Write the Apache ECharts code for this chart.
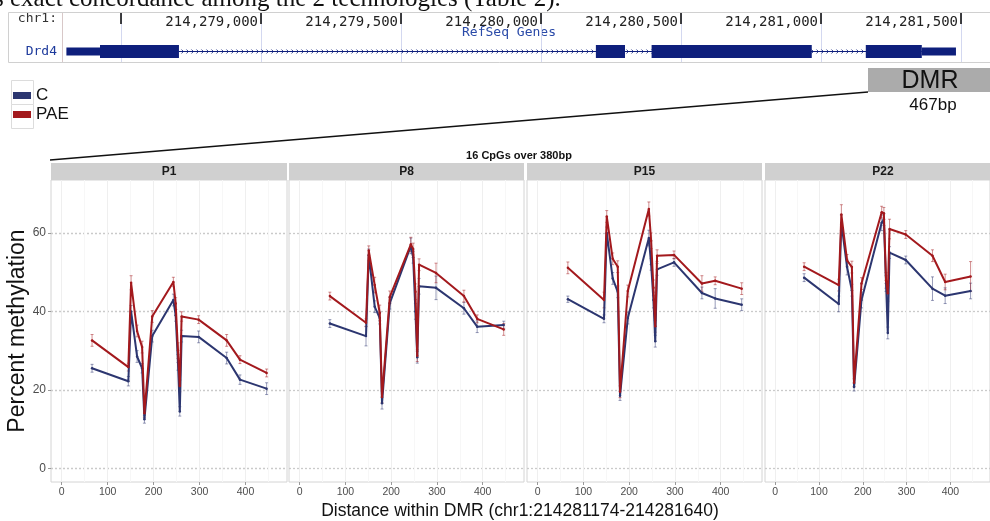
<!DOCTYPE html>
<html><head><meta charset="utf-8">
<script src="https://cdn.jsdelivr.net/npm/echarts@6/dist/echarts.min.js"></script>
<style>html,body{margin:0;padding:0;background:#fff;overflow:hidden}#c{width:990px;height:521px}</style>
</head><body><div id="c"></div>
<script>
// ---------------- data ----------------
const cpgPos = [66, 145, 151, 164, 175, 180, 197, 243, 248, 253, 257, 261, 298, 359, 388, 446];
const panels = ['P1', 'P8', 'P15', 'P22'];
const groups = ['C', 'PAE'];

const C_P1   = [25.5, 22.2, 40.0, 28.5, 25.5, 12.5, 33.7, 42.9, 39.0, 27.0, 14.5, 33.7, 33.5, 28.1, 22.6, 20.3];
const PAE_P1 = [32.6, 25.8, 47.3, 35.0, 30.9, 14.0, 38.7, 47.5, 42.0, 30.0, 21.0, 38.7, 37.9, 32.6, 27.7, 24.3];
const C_P8   = [36.9, 33.7, 54.4, 41.2, 38.3, 16.6, 42.1, 56.7, 53.8, 40.0, 28.3, 46.4, 46.0, 40.8, 36.1, 36.5];
const PAE_P8 = [43.9, 37.1, 55.5, 46.7, 39.6, 18.2, 43.7, 57.1, 55.9, 45.0, 28.7, 51.9, 49.8, 43.9, 38.1, 35.4];
const C_P15  = [43.1, 38.1, 60.0, 48.4, 45.0, 18.5, 38.3, 58.7, 52.0, 42.9, 32.4, 50.7, 52.5, 44.7, 43.3, 41.7];
const PAE_P15= [51.1, 42.9, 64.2, 53.4, 51.4, 19.5, 45.2, 66.1, 58.0, 46.0, 36.2, 54.2, 54.4, 47.1, 47.8, 45.8];
const C_P22  = [48.6, 41.9, 62.6, 51.3, 45.4, 20.7, 42.9, 62.6, 63.4, 47.1, 34.5, 55.0, 53.1, 45.8, 44.0, 45.2];
const PAE_P22= [51.4, 46.7, 64.7, 53.0, 51.3, 21.8, 47.1, 65.3, 65.0, 47.9, 44.6, 61.0, 59.6, 54.2, 47.5, 48.9];

const errC_P1   = [1.0, 1.2, 1.5, 1.5, 1.2, 1.0, 1.5, 1.5, 1.5, 2.0, 1.2, 1.5, 1.5, 1.5, 1.2, 1.5];
const errPAE_P1 = [1.5, 1.0, 1.8, 1.5, 1.5, 1.0, 1.5, 1.2, 1.5, 2.0, 1.5, 1.2, 1.0, 1.5, 1.0, 1.0];
const errC_P8   = [1.0, 2.5, 1.5, 1.5, 1.5, 1.5, 1.5, 2.0, 1.5, 2.0, 1.5, 2.0, 3.0, 1.5, 1.5, 1.0];
const errPAE_P8 = [1.0, 1.0, 1.2, 2.0, 2.0, 1.5, 1.5, 1.8, 1.5, 2.0, 1.5, 1.5, 2.5, 1.5, 1.0, 1.5];
const errC_P15  = [0.8, 1.0, 1.5, 1.5, 1.5, 1.2, 1.5, 2.0, 1.5, 2.0, 1.5, 1.5, 1.0, 1.5, 2.5, 1.5];
const errPAE_P15= [1.5, 2.0, 1.5, 1.5, 1.5, 1.5, 1.5, 1.8, 2.0, 2.0, 1.5, 1.5, 1.0, 2.0, 1.0, 1.5];
const errC_P22  = [1.0, 2.0, 2.0, 2.0, 1.5, 1.0, 2.0, 2.0, 1.5, 2.0, 1.5, 1.5, 1.0, 3.0, 2.0, 2.0];
const errPAE_P22= [1.0, 1.5, 2.5, 1.5, 1.5, 1.0, 1.5, 1.5, 1.5, 2.0, 2.0, 2.5, 1.0, 1.5, 2.0, 3.8];

const xTicks = [0, 100, 200, 300, 400];
const yLabels = [0, 20, 40, 60];

// genome browser track (chr1 coordinates)
const trackTicks = [214278500, 214279000, 214279500, 214280000, 214280500, 214281000, 214281500];
const geneUTR = [[214278305, 214278425], [214281360, 214281482]];
const geneCDS = [[214278425, 214278707], [214280196, 214280300], [214280395, 214280967], [214281160, 214281360]];
const geneIntron = [[214278707, 214281360]];
const geneName = 'Drd4';

const dmrLabel = 'DMR';
const dmrSize = '467bp';
const stripTitle = '16 CpGs over 380bp';
const xTitle = 'Distance within DMR (chr1:214281174-214281640)';
const yTitle = 'Percent methylation';

const values = {C: [C_P1, C_P8, C_P15, C_P22], PAE: [PAE_P1, PAE_P8, PAE_P15, PAE_P22]};
const errors = {C: [errC_P1, errC_P8, errC_P15, errC_P22], PAE: [errPAE_P1, errPAE_P8, errPAE_P15, errPAE_P22]};

// ---------------- styles / layout ----------------
const colors = {C: '#2c3670', PAE: '#a3191d'};
const geneColor = '#0e1f7c';
const SANS = "'Liberation Sans', Arial, sans-serif";
const MONO = "'DejaVu Sans Mono', monospace";
const panelLeft = [51, 289, 527, 765];
const panelWidth = [236, 235, 235, 236];
const panelTop = 180, panelHeight = 302;
const GENE_ROW = 0.21;

const chart = echarts.init(document.getElementById('c'), null, {renderer: 'canvas'});

const grids = [{left: 65, top: 12, width: 924, height: 50, show: false}];
const xAxes = [{
  gridIndex: 0, type: 'value', min: 214278300, max: 214281600, interval: 60, position: 'top',
  axisLine: {show: false, onZero: false},
  axisTick: {show: true, inside: true, length: 12, customValues: trackTicks, lineStyle: {color: '#111', width: 1.6}},
  axisLabel: {show: true, inside: true, customValues: trackTicks, margin: 3, align: 'right', padding: [0, 3, 0, 0],
    fontFamily: MONO, fontSize: 14, color: '#222',
    formatter: v => (v === trackTicks[0] ? '' : Number(v).toLocaleString('en-US'))},
  splitLine: {show: true, lineStyle: {color: '#d3d8f0', width: 1}}
}];
const yAxes = [{gridIndex: 0, type: 'value', min: 0, max: 1, show: false}];
const series = [];

function errItemFactory(color) {
  return function (params, api) {
    const x = api.value(0), v = api.value(1), e = api.value(2);
    const hi = api.coord([x, v + e]), lo = api.coord([x, v - e]);
    const st = {stroke: color, lineWidth: 0.9, opacity: 0.55};
    return {type: 'group', children: [
      {type: 'line', shape: {x1: hi[0], y1: hi[1], x2: lo[0], y2: lo[1]}, style: st},
      {type: 'line', shape: {x1: hi[0] - 1.5, y1: hi[1], x2: hi[0] + 1.5, y2: hi[1]}, style: st},
      {type: 'line', shape: {x1: lo[0] - 1.5, y1: lo[1], x2: lo[0] + 1.5, y2: lo[1]}, style: st}
    ]};
  };
}

panels.forEach((p, i) => {
  grids.push({left: panelLeft[i], top: panelTop, width: panelWidth[i], height: panelHeight, show: true,
    borderColor: '#d4d4d4', borderWidth: 1, backgroundColor: '#fff'});
  xAxes.push({
    gridIndex: i + 1, type: 'value', min: -23.35, max: 490.35, splitNumber: 5,
    axisLine: {show: false, onZero: false},
    axisTick: {show: true, customValues: xTicks, length: 3, lineStyle: {color: '#999'}},
    axisLabel: {show: true, customValues: xTicks, margin: 5, fontSize: 10.5, color: '#4d4d4d', fontFamily: SANS},
    splitLine: {show: true, lineStyle: {color: '#efefef', width: 1}},
    minorTick: {show: false, splitNumber: 2},
    minorSplitLine: {show: true, lineStyle: {color: '#f7f7f7', width: 1}}
  });
  yAxes.push({
    gridIndex: i + 1, type: 'value', min: -3.5, max: 73.5, splitNumber: 4,
    axisLine: {show: false, onZero: false},
    axisTick: {show: i === 0, customValues: yLabels, length: 3, lineStyle: {color: '#999'}},
    axisLabel: {show: i === 0, customValues: yLabels, margin: 5, fontSize: 12, color: '#4d4d4d', fontFamily: SANS},
    splitLine: {show: true, lineStyle: {color: '#cacaca', width: 1.3, type: [2, 2]}}
  });
  groups.forEach(g => {
    const pts = cpgPos.map((x, k) => [x, values[g][i][k]]);
    const errPts = cpgPos.map((x, k) => [x, values[g][i][k], errors[g][i][k]]);
    series.push({
      name: g, type: 'line', xAxisIndex: i + 1, yAxisIndex: i + 1, data: pts,
      symbol: 'circle', symbolSize: 2.5, showSymbol: true, animation: false,
      itemStyle: {color: colors[g]}, lineStyle: {color: colors[g], width: 2}, z: g === 'PAE' ? 4 : 3
    });
    series.push({
      name: g, type: 'custom', xAxisIndex: i + 1, yAxisIndex: i + 1, silent: true,
      itemStyle: {color: colors[g]},
      renderItem: errItemFactory(colors[g]), data: errPts, z: 2, clip: true
    });
  });
});

// gene model series on track grid
series.push({
  type: 'custom', xAxisIndex: 0, yAxisIndex: 0, silent: true, data: geneIntron, z: 2,
  renderItem: function (params, api) {
    const s = api.coord([api.value(0), GENE_ROW]), e = api.coord([api.value(1), GENE_ROW]);
    const y = s[1];
    const ch = [{type: 'line', shape: {x1: s[0], y1: y, x2: e[0], y2: y}, style: {stroke: geneColor, lineWidth: 1}}];
    for (let x = s[0] + 4; x < e[0] - 2; x += 5) {
      ch.push({type: 'polyline', shape: {points: [[x - 1.5, y - 2], [x + 0.5, y], [x - 1.5, y + 2]]},
        style: {stroke: geneColor, fill: 'none', lineWidth: 0.8}});
    }
    return {type: 'group', children: ch};
  }
});
function exonRender(h) {
  return function (params, api) {
    const s = api.coord([api.value(0), GENE_ROW]), e = api.coord([api.value(1), GENE_ROW]);
    return {type: 'rect', shape: {x: s[0], y: s[1] - h / 2, width: e[0] - s[0], height: h}, style: {fill: geneColor}};
  };
}
series.push({type: 'custom', xAxisIndex: 0, yAxisIndex: 0, silent: true, data: geneUTR, z: 3, renderItem: exonRender(8)});
series.push({type: 'custom', xAxisIndex: 0, yAxisIndex: 0, silent: true, data: geneCDS, z: 3, renderItem: exonRender(13)});

// decorations
const graphic = [
  {type: 'text', left: -6, top: -13, style: {text: 's exact concordance among the 2 technologies (Table 2).',
    font: "25px 'Liberation Serif', 'Times New Roman', serif", fill: '#111'}},
  {type: 'rect', shape: {x: 8.5, y: 12.5, width: 990, height: 50}, style: {fill: 'none', stroke: '#d0d0d0', lineWidth: 1}, z: 10},
  {type: 'line', shape: {x1: 62.5, y1: 12, x2: 62.5, y2: 63}, style: {stroke: '#d8c8c8', lineWidth: 1}},
  {type: 'text', x: 57, y: 19, style: {text: 'chr1:', font: '13px ' + MONO, fill: '#333', align: 'right', verticalAlign: 'middle'}},
  {type: 'text', x: 57, y: 52, style: {text: geneName, font: '13px ' + MONO, fill: '#1d3a9c', align: 'right', verticalAlign: 'middle'}},
  {type: 'text', x: 509, y: 33, style: {text: 'RefSeq Genes', font: '13px ' + MONO, fill: '#2a4aa8', align: 'center', verticalAlign: 'middle'}},
  {type: 'rect', shape: {x: 868, y: 68, width: 130, height: 24}, style: {fill: '#ababab'}},
  {type: 'text', x: 930, y: 81, style: {text: dmrLabel, font: '25px ' + SANS, fill: '#111', align: 'center', verticalAlign: 'middle'}},
  {type: 'text', x: 933, y: 105, style: {text: dmrSize, font: '17px ' + SANS, fill: '#111', align: 'center', verticalAlign: 'middle'}},
  {type: 'line', shape: {x1: 50, y1: 160, x2: 868, y2: 92}, style: {stroke: '#111', lineWidth: 1.5}},
  {type: 'text', x: 519, y: 156, style: {text: stripTitle, font: 'bold 11px ' + SANS, fill: '#111', align: 'center', verticalAlign: 'middle'}},
  {type: 'rect', shape: {x: 11.5, y: 80.5, width: 22, height: 24}, style: {fill: '#fff', stroke: '#dcdcdc', lineWidth: 1}, z: -1},
  {type: 'rect', shape: {x: 11.5, y: 104.5, width: 22, height: 24}, style: {fill: '#fff', stroke: '#dcdcdc', lineWidth: 1}, z: -1},
  {type: 'text', x: 520, y: 511, style: {text: xTitle, font: '17.5px ' + SANS, fill: '#111', align: 'center', verticalAlign: 'middle'}},
  {type: 'text', x: 18, y: 331, rotation: Math.PI / 2, style: {text: yTitle, font: '23px ' + SANS, fill: '#111', align: 'center', verticalAlign: 'middle'}}
];
panels.forEach((p, i) => {
  graphic.push({type: 'rect', shape: {x: panelLeft[i], y: 163, width: panelWidth[i], height: 17}, style: {fill: '#d0d0d0'}});
  graphic.push({type: 'text', x: panelLeft[i] + panelWidth[i] / 2, y: 172, style: {text: p, font: 'bold 12px ' + SANS, fill: '#1a1a1a', align: 'center', verticalAlign: 'middle'}});
});

chart.setOption({
  animation: false,
  backgroundColor: '#fff',
  grid: grids, xAxis: xAxes, yAxis: yAxes, series: series, graphic: graphic,
  legend: {data: groups, orient: 'vertical', left: 13, top: 87, padding: 0, icon: 'rect', itemWidth: 18, itemHeight: 7,
    itemGap: 2, textStyle: {fontSize: 17, color: '#111', fontFamily: SANS, lineHeight: 17}, selectedMode: false}
});
</script></body></html>
